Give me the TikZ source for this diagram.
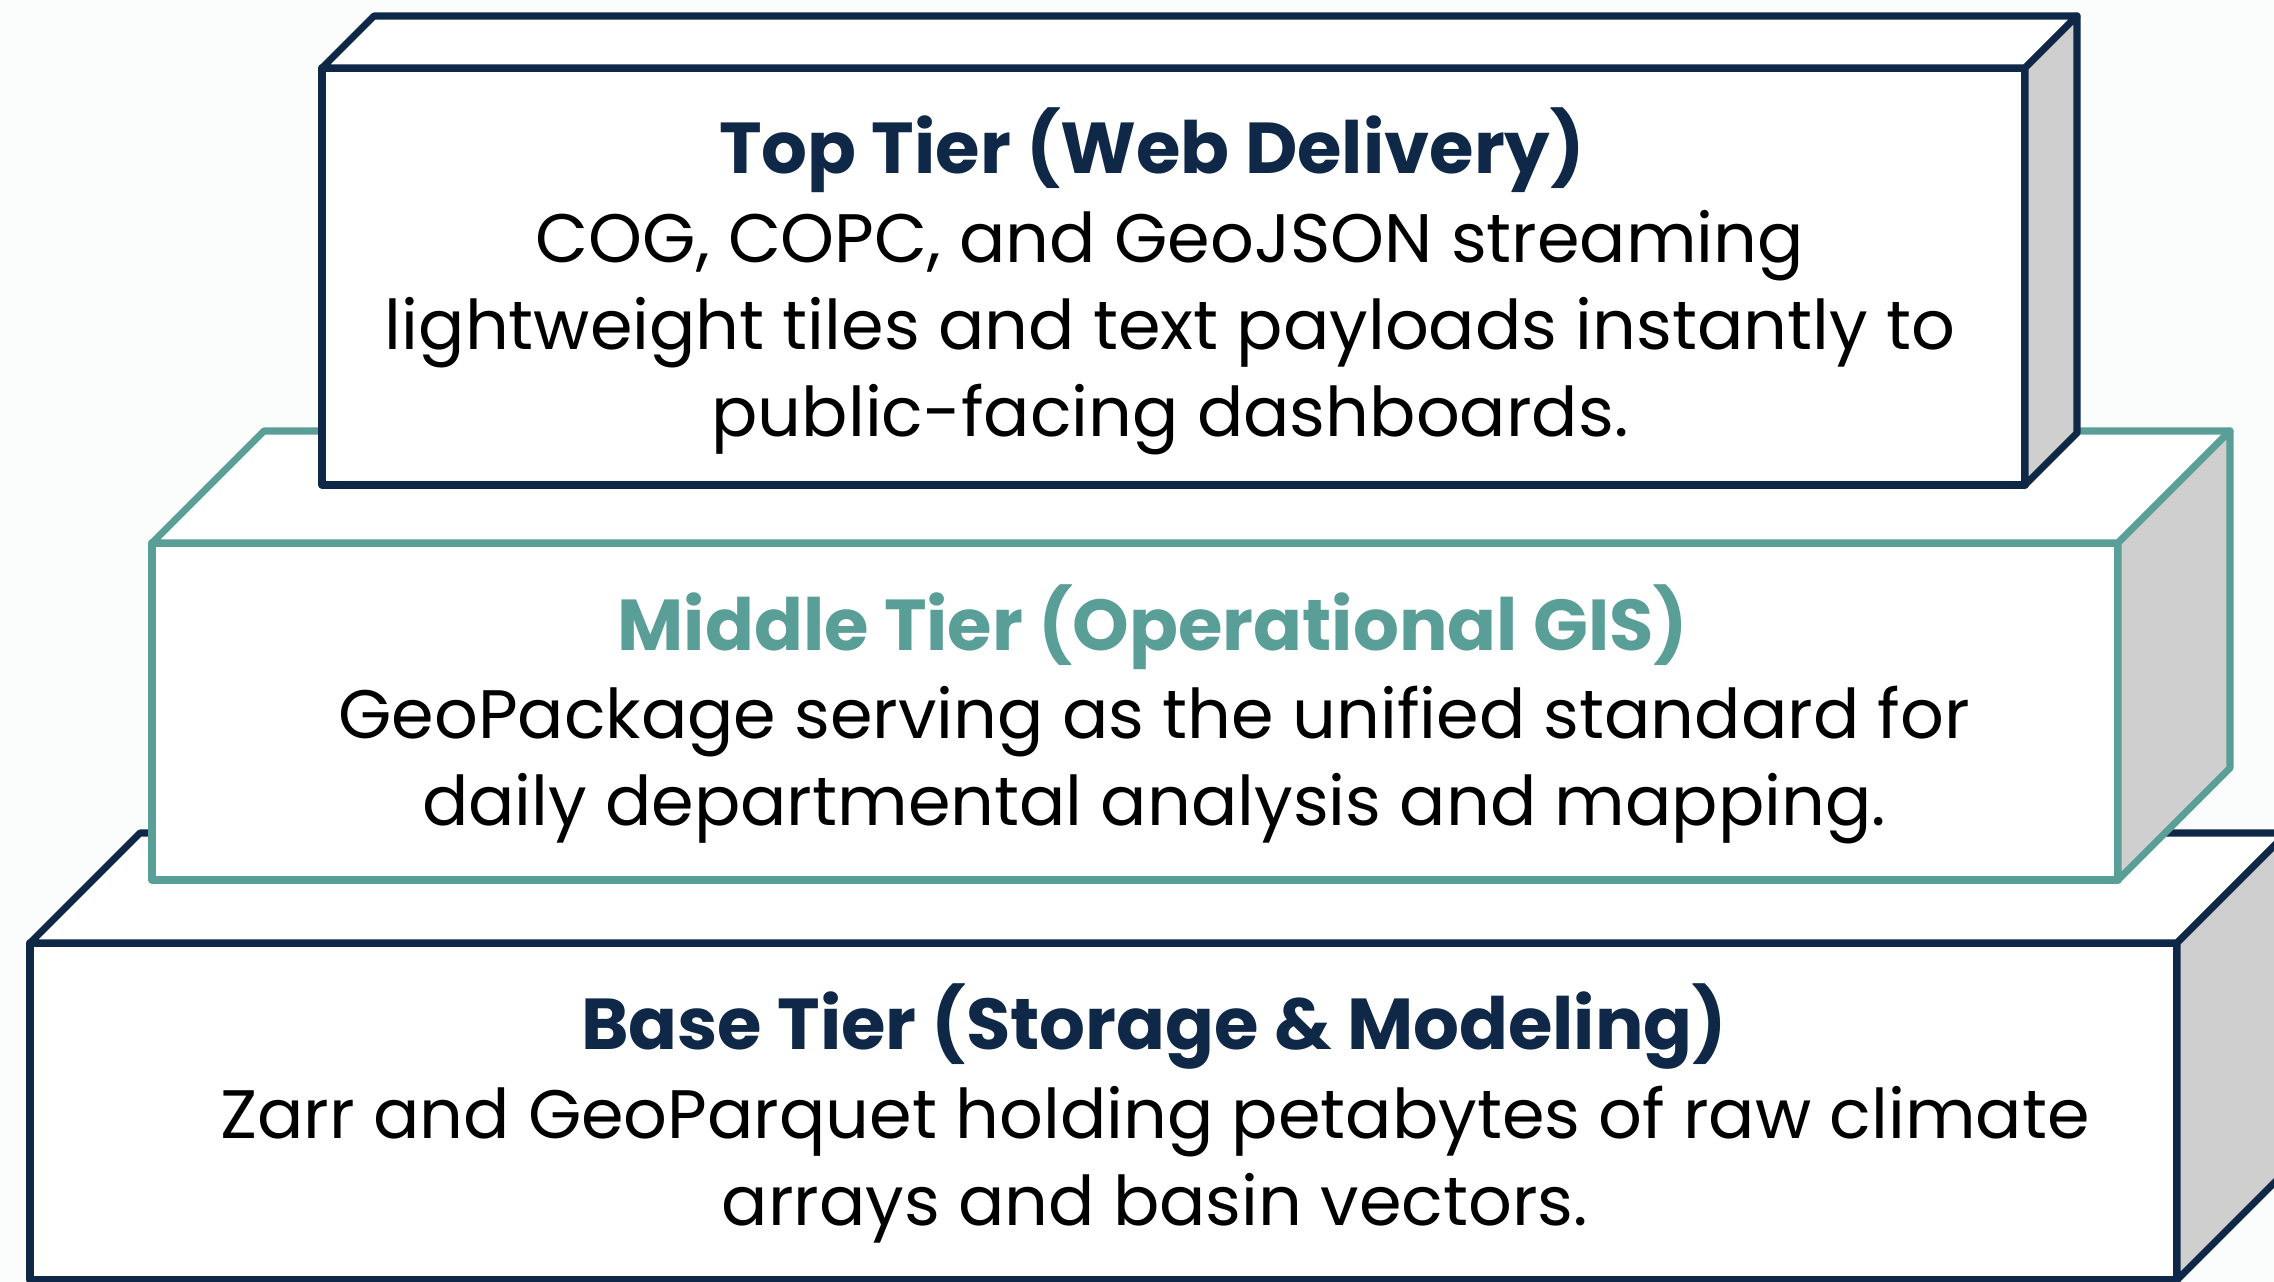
\documentclass[tikz,border=0pt]{standalone}
\usepackage{fontspec}
\setmainfont{Poppins}
\usetikzlibrary{calc}

\definecolor{tiernavy}{RGB}{16,40,72}
\definecolor{tierteal}{RGB}{90,158,152}
\definecolor{sidegray}{RGB}{207,207,207}
\definecolor{paper}{RGB}{251,252,252}

\tikzset{
  tierline/.style={line width=2pt, line join=round},
  tiertext/.style={align=center, font=\fontsize{19.5}{24.7}\selectfont, text=black},
  tiertitle/.style={font=\fontsize{20.5}{24.7}\selectfont\bfseries, text=#1},
}

% one block of the stack: front corners, depth, edge colour
\newcommand{\tierblock}[6]{%
  % front face
  \filldraw[tierline, draw=#6, fill=white] (#1,#2) rectangle (#3,#4);
  % top face
  \filldraw[tierline, draw=#6, fill=white] (#1,#2) -- ++(#5,-#5) -- ++({#3-#1},0) -- (#3,#2) -- cycle;
  % right side in grey
  \filldraw[tierline, draw=#6, fill=sidegray] (#3,#4) -- ++(#5,-#5) -- ++(0,{#2-#4}) -- (#3,#2) -- cycle;
}

\begin{document}
\begin{tikzpicture}[x=0.01cm, y=-0.01cm]
    \fill[paper] (0,0) rectangle (2274,1282);
    \useasboundingbox (0,0) rectangle (2274,1282);
    \clip (0,0) rectangle (2274,1282);

    % base, middle and top blocks, back to front
    \tierblock{30}{943}{2177}{1280}{110}{tiernavy}
    \tierblock{152}{543}{2118}{880}{112}{tierteal}
    \tierblock{322}{68}{2025}{485}{52}{tiernavy}

    % top tier
    \node[tiertitle=tiernavy] (toptitle) at (1152,150) {Top Tier (Web Delivery)};
    \node[tiertext] (topbody) at (1170,333) {COG, COPC, and GeoJSON streaming\\
        lightweight tiles and text payloads instantly to\\
        public-facing dashboards.};

    % middle tier
    \node[tiertitle=tierteal] (midtitle) at (1153,627) {Middle Tier (Operational GIS)};
    \node[tiertext] (midbody) at (1154,765) {GeoPackage serving as the unified standard for\\
        daily departmental analysis and mapping.};

    % base tier
    \node[tiertitle=tiernavy] (basetitle) at (1154,1027) {Base Tier (Storage \& Modeling)};
    \node[tiertext] (basebody) at (1155,1165) {Zarr and GeoParquet holding petabytes of raw climate\\
        arrays and basin vectors.};
\end{tikzpicture}
\end{document}
